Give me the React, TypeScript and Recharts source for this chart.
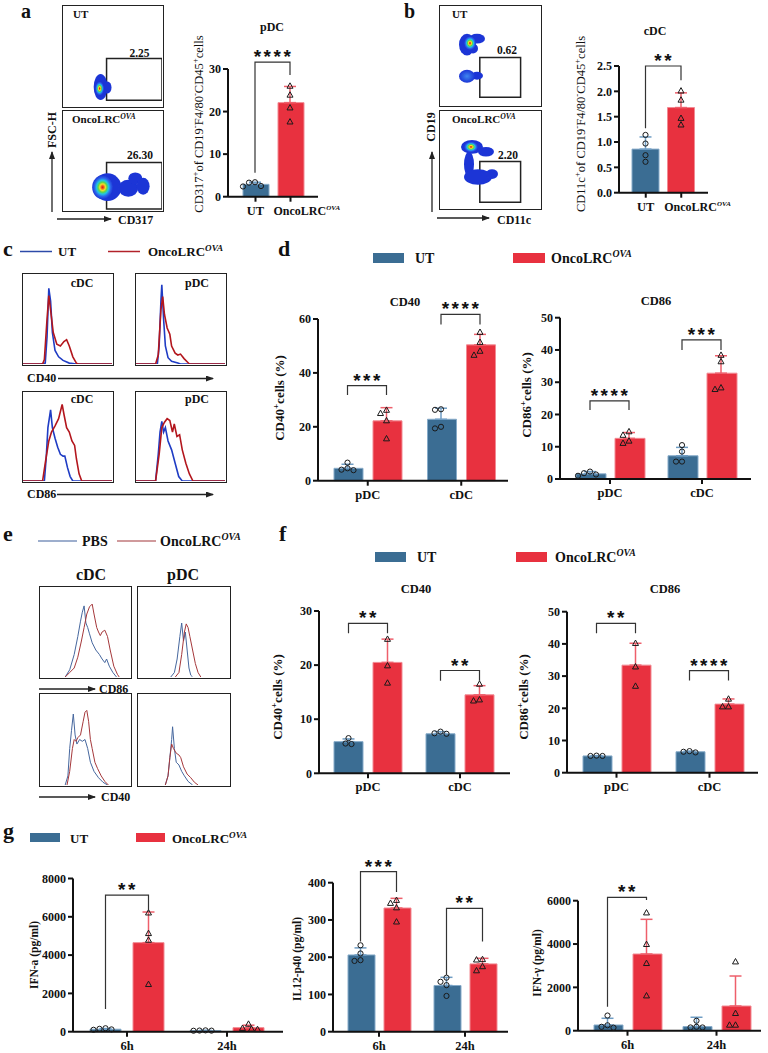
import React from "react";
import {
  ComposedChart,
  ScatterChart,
  Bar,
  Cell,
  Scatter,
  ErrorBar,
  XAxis,
  YAxis,
  ReferenceLine,
  ReferenceArea,
} from "recharts";

const SERIF = '"Liberation Serif", "Times New Roman", serif';
const SANS = '"Liberation Sans", Arial, sans-serif';
const UT_BLUE = "#3b6d93";
const ONCO_RED = "#e8313f";
const UT_EDGE = "#86abc9";
const ONCO_EDGE = "#f28a93";
const UT_ERR = "#6f9dc4";
const ONCO_ERR = "#ee5f6b";
const INK = "#111";

// ---------- bar panels: values ----------
// a: pDC (CD317+)
const aCats = ["UT", "OncoLRC"];
const aUt = [2.9];
const aUtSd = [0.5];
const aUtPts = [[3.4, 3.3, 2.5, 2.4]];
const aOnco = [22.1];
const aOncoSd = [3.8];
const aOncoPts = [[26.0, 23.9, 20.9, 17.6]];
const aSig = [{ g: 0, top: 31.6, l: 5.6, r: 28.6, text: "****" }];

// b: cDC (CD11c+)
const bCats = ["UT", "OncoLRC"];
const bUt = [0.86];
const bUtSd = [0.24];
const bUtPts = [[1.14, 0.97, 0.74, 0.61]];
const bOnco = [1.68];
const bOncoSd = [0.29];
const bOncoPts = [[2.01, 1.83, 1.47, 1.34]];
const bSig = [{ g: 0, top: 2.5, l: 1.27, r: 2.22, text: "**" }];

// d: CD40 / CD86 (in vivo)
const dcCats = ["pDC", "cDC"];
const d40Ut = [4.6, 22.8];
const d40UtSd = [1.5, 4.1];
const d40UtPts = [[6.7, 4.6, 4.1, 3.9], [26.5, 26.3, 20.0, 19.4]];
const d40Onco = [22.2, 50.4];
const d40OncoSd = [4.9, 3.9];
const d40OncoPts = [[26.2, 25.0, 22.3, 15.6], [55.1, 51.4, 48.1, 46.6]];
const d40Sig = [
  { g: 0, top: 35.3, l: 31.8, r: 31.8, text: "***" },
  { g: 1, top: 61.7, l: 58.0, r: 58.0, text: "****" },
];
const d86Ut = [1.6, 7.2];
const d86UtSd = [0.7, 2.6];
const d86UtPts = [[2.3, 1.8, 1.4, 1.0], [10.5, 8.5, 5.4, 5.4]];
const d86Onco = [12.6, 32.8];
const d86OncoSd = [1.8, 5.4];
const d86OncoPts = [[14.7, 13.6, 11.8, 11.1], [38.4, 36.4, 28.3, 27.8]];
const d86Sig = [
  { g: 0, top: 24.2, l: 21.4, r: 21.4, text: "****" },
  { g: 1, top: 43.1, l: 40.0, r: 40.0, text: "***" },
];

// f: CD40 / CD86 (in vitro)
const f40Ut = [5.85, 7.3];
const f40UtSd = [0.5, 0.4];
const f40UtPts = [[6.5, 5.5, 5.4], [7.7, 7.4, 7.3]];
const f40Onco = [20.5, 14.5];
const f40OncoSd = [4.3, 1.7];
const f40OncoPts = [[24.8, 19.9, 16.7], [16.5, 13.6, 13.4]];
const f40Sig = [
  { g: 0, top: 27.7, l: 25.9, r: 25.9, text: "**" },
  { g: 1, top: 19.0, l: 17.1, r: 17.1, text: "**" },
];
const f86Ut = [5.2, 6.5];
const f86UtSd = [0.1, 0.2];
const f86UtPts = [[5.3, 5.2, 5.2], [6.7, 6.5, 6.3]];
const f86Onco = [33.4, 21.3];
const f86OncoSd = [6.8, 1.6];
const f86OncoPts = [[40.2, 32.9, 26.9], [22.9, 20.5, 20.5]];
const f86Sig = [
  { g: 0, top: 46.4, l: 43.3, r: 43.3, text: "**" },
  { g: 1, top: 31.7, l: 28.6, r: 28.6, text: "****" },
];

// g: cytokines
const gCats = ["6h", "24h"];
const ifnaUt = [130, 60];
const ifnaUtSd = [35, 10];
const ifnaUtPts = [[180, 150, 120, 100], [70, 60, 55, 50]];
const ifnaOnco = [4650, 210];
const ifnaOncoSd = [1600, 130];
const ifnaOncoPts = [[6210, 5135, 4786, 2474], [400, 180, 140, 120]];
const ifnaSig = [{ g: 0, top: 7135, l: 1180, r: 6280, text: "**" }];

const il12Ut = [206, 124];
const il12UtSd = [19, 22];
const il12UtPts = [[232, 210, 192, 190], [145, 134, 125, 96]];
const il12Onco = [332, 182];
const il12OncoSd = [26, 15];
const il12OncoPts = [[353, 345, 333, 295], [194, 193, 175, 164]];
const il12Sig = [
  { g: 0, top: 430, l: 242, r: 375, text: "***" },
  { g: 1, top: 331, l: 152, r: 242, text: "**" },
];

const ifngUt = [263, 190];
const ifngUtSd = [310, 430];
const ifngUtPts = [[700, 250, 180, 140], [460, 180, 150, 150]];
const ifngOnco = [3540, 1140];
const ifngOncoSd = [1600, 1384];
const ifngOncoPts = [[5445, 3987, 3110, 1615], [3184, 803, 263, 263]];
const ifngSig = [{ g: 0, top: 6156, l: 1108, r: 6030, text: "**" }];

// ---------- flow cytometry histograms: [fluorescence, relative count] ----------
const c1Ut = [[0, 0], [0.2, 0], [0.25, 0.01], [0.27, 0.3], [0.29, 0.84], [0.31, 0.7], [0.33, 0.35], [0.36, 0.15], [0.4, 0.08], [0.45, 0.04], [0.52, 0.01], [0.6, 0], [1, 0]];
const c1On = [[0, 0], [0.22, 0], [0.24, 0.05], [0.27, 0.5], [0.29, 0.76], [0.31, 0.6], [0.34, 0.35], [0.38, 0.22], [0.42, 0.2], [0.46, 0.25], [0.49, 0.27], [0.52, 0.2], [0.56, 0.08], [0.6, 0.01], [0.62, 0], [1, 0]];
const c2Ut = [[0, 0], [0.24, 0], [0.26, 0.2], [0.28, 0.7], [0.29, 0.88], [0.31, 0.5], [0.33, 0.2], [0.36, 0.07], [0.4, 0.03], [0.47, 0.01], [0.5, 0], [1, 0]];
const c2On = [[0, 0], [0.22, 0], [0.25, 0.1], [0.28, 0.6], [0.3, 0.75], [0.32, 0.55], [0.35, 0.4], [0.38, 0.33], [0.4, 0.2], [0.44, 0.12], [0.47, 0.1], [0.5, 0.11], [0.54, 0.06], [0.58, 0.02], [0.6, 0], [1, 0]];
const c3Ut = [[0, 0], [0.24, 0], [0.26, 0.25], [0.28, 0.6], [0.31, 0.8], [0.33, 0.6], [0.36, 0.48], [0.39, 0.38], [0.42, 0.3], [0.45, 0.28], [0.47, 0.28], [0.5, 0.15], [0.53, 0.05], [0.56, 0], [1, 0]];
const c3On = [[0, 0], [0.22, 0], [0.25, 0.2], [0.29, 0.45], [0.32, 0.55], [0.36, 0.62], [0.4, 0.7], [0.44, 0.86], [0.46, 0.75], [0.49, 0.6], [0.52, 0.55], [0.55, 0.45], [0.58, 0.4], [0.6, 0.25], [0.63, 0.08], [0.66, 0], [1, 0]];
const c4Ut = [[0, 0], [0.22, 0], [0.25, 0.3], [0.27, 0.55], [0.29, 0.67], [0.31, 0.55], [0.33, 0.6], [0.36, 0.45], [0.4, 0.35], [0.44, 0.2], [0.48, 0.05], [0.52, 0], [1, 0]];
const c4On = [[0, 0], [0.22, 0], [0.26, 0.3], [0.29, 0.6], [0.32, 0.66], [0.35, 0.7], [0.38, 0.68], [0.41, 0.55], [0.43, 0.64], [0.46, 0.5], [0.49, 0.52], [0.52, 0.35], [0.56, 0.2], [0.6, 0.08], [0.64, 0], [1, 0]];

const e1Pbs = [[0.28, 0], [0.33, 0.08], [0.38, 0.25], [0.42, 0.45], [0.45, 0.62], [0.47, 0.72], [0.49, 0.79], [0.51, 0.6], [0.53, 0.55], [0.55, 0.48], [0.58, 0.38], [0.62, 0.3], [0.66, 0.25], [0.69, 0.2], [0.72, 0.16], [0.74, 0.2], [0.77, 0.12], [0.81, 0.05], [0.85, 0]];
const e1On = [[0.28, 0], [0.33, 0.05], [0.38, 0.1], [0.42, 0.22], [0.46, 0.4], [0.49, 0.55], [0.52, 0.7], [0.55, 0.78], [0.58, 0.81], [0.6, 0.7], [0.63, 0.55], [0.65, 0.5], [0.67, 0.46], [0.69, 0.5], [0.72, 0.52], [0.75, 0.45], [0.78, 0.3], [0.82, 0.12], [0.86, 0.03], [0.88, 0]];
const e2Pbs = [[0.36, 0], [0.4, 0.05], [0.43, 0.2], [0.46, 0.45], [0.48, 0.6], [0.5, 0.4], [0.52, 0.5], [0.54, 0.3], [0.56, 0.1], [0.58, 0.02], [0.6, 0]];
const e2On = [[0.41, 0], [0.45, 0.05], [0.48, 0.25], [0.51, 0.5], [0.53, 0.59], [0.55, 0.55], [0.57, 0.45], [0.6, 0.3], [0.63, 0.15], [0.66, 0.05], [0.69, 0]];
const e3Pbs = [[0.28, 0], [0.31, 0.1], [0.33, 0.4], [0.35, 0.6], [0.37, 0.78], [0.39, 0.55], [0.41, 0.45], [0.44, 0.5], [0.47, 0.48], [0.5, 0.5], [0.53, 0.4], [0.56, 0.25], [0.6, 0.15], [0.65, 0.08], [0.7, 0.03], [0.75, 0]];
const e3On = [[0.3, 0], [0.33, 0.15], [0.36, 0.4], [0.38, 0.5], [0.4, 0.48], [0.42, 0.52], [0.45, 0.55], [0.48, 0.7], [0.5, 0.8], [0.52, 0.82], [0.54, 0.7], [0.56, 0.5], [0.58, 0.4], [0.61, 0.25], [0.64, 0.18], [0.68, 0.1], [0.72, 0.04], [0.76, 0]];
const e4Pbs = [[0.3, 0], [0.33, 0.1], [0.35, 0.3], [0.37, 0.5], [0.38, 0.64], [0.4, 0.4], [0.42, 0.25], [0.45, 0.22], [0.48, 0.15], [0.51, 0.1], [0.55, 0.04], [0.6, 0]];
const e4On = [[0.3, 0], [0.33, 0.1], [0.35, 0.3], [0.37, 0.45], [0.39, 0.4], [0.42, 0.35], [0.45, 0.33], [0.47, 0.3], [0.5, 0.2], [0.54, 0.12], [0.58, 0.08], [0.62, 0.03], [0.66, 0]];

// ---------- density plots: blobs (x, y, rx, ry in 0..100 units; k 0 blue, 1 hot core, 2 cool) ----------
const aUtBlobs = [
  { x: 38, y: 19, rx: 7, ry: 13, k: 0 },
  { x: 45, y: 18.5, rx: 4, ry: 6, k: 0 },
  { x: 37, y: 17.5, rx: 4.5, ry: 7, k: 1 },
];
const aOnBlobs = [
  { x: 45, y: 23, rx: 14, ry: 14, k: 0 },
  { x: 66, y: 22, rx: 10, ry: 8.5, k: 0 },
  { x: 73, y: 32, rx: 7, ry: 6, k: 0 },
  { x: 81, y: 24, rx: 6.5, ry: 8.5, k: 0 },
  { x: 40, y: 23, rx: 10.5, ry: 12, k: 1 },
];
const bUtBlobs = [
  { x: 27, y: 61, rx: 8, ry: 11, k: 0 },
  { x: 37, y: 67, rx: 8, ry: 5, k: 0 },
  { x: 33, y: 57, rx: 5, ry: 5, k: 0 },
  { x: 30, y: 62.5, rx: 6, ry: 7, k: 1 },
  { x: 37, y: 29.5, rx: 6, ry: 4, k: 0 },
  { x: 27, y: 29, rx: 8, ry: 6.5, k: 2 },
];
const bOnBlobs = [
  { x: 32, y: 63, rx: 11, ry: 7, k: 0 },
  { x: 46, y: 58, rx: 8, ry: 5, k: 0 },
  { x: 29, y: 45, rx: 5, ry: 13, k: 0 },
  { x: 38, y: 32, rx: 14, ry: 8, k: 0 },
  { x: 52, y: 35, rx: 6, ry: 5, k: 0 },
  { x: 31, y: 63, rx: 7, ry: 5.5, k: 1 },
];

const blank = () => <g />;

function swarm(vals: number[], xc: number, ppu: number, band: number) {
  const step = 6;
  const placed: { dx: number; py: number }[] = [];
  return vals.map((v) => {
    const py = v * ppu;
    let dx = 0;
    for (const k of [0, -0.5, 0.5, -1, 1, -1.5, 1.5, -2, 2]) {
      const cand = k * step;
      if (placed.every((p) => Math.hypot(p.dx - cand, p.py - py) >= step - 0.5)) {
        dx = cand;
        break;
      }
    }
    placed.push({ dx, py });
    return { x: xc + dx / band, y: v };
  });
}

const circleShape = (p: any) => (
  <circle cx={p.cx} cy={p.cy} r={2.6} fill="none" stroke="#1a1a1a" strokeWidth={1} />
);
const triShape = (p: any) => (
  <path
    d={`M${p.cx},${p.cy - 3.2} L${p.cx - 3},${p.cy + 2.2} L${p.cx + 3},${p.cy + 2.2} Z`}
    fill="none"
    stroke="#1a1a1a"
    strokeWidth={1}
  />
);
const sigShape = (p: any) => (
  <text
    x={p.cx + 1}
    y={p.cy + 1}
    textAnchor="middle"
    fontFamily={SANS}
    fontWeight="bold"
    fontSize={19}
    letterSpacing={2.5}
    fill={INK}
  >
    {p.payload.text}
  </text>
);

const CatTick = (p: any) => {
  const v = p.payload.value;
  if (v === "OncoLRC") {
    // GraphPad left-aligns this long label just right of the UT label
    return (
      <text x={p.x - 17} y={p.y} dy={10} textAnchor="start" fontFamily={SERIF} fontWeight="bold" fontSize={12} fill={INK}>
        <tspan>OncoLRC</tspan>
        <tspan dy={-5} fontSize={7} fontStyle="italic">OVA</tspan>
      </text>
    );
  }
  return (
    <text x={p.x} y={p.y} dy={10} textAnchor="middle" fontFamily={SERIF} fontWeight="bold" fontSize={12.5} fill={INK}>
      {v}
    </text>
  );
};

function BarPanel({ c }: { c: any }) {
  const n = c.cats.length;
  const plotW = c.plotR - c.axisX;
  const band = (plotW - c.padL - c.padR) / n;
  const numLo = -c.padL / band;
  const numHi = n + c.padR / band;
  const ppu = (c.y0 - c.yAxisTopPx) / c.axisMax;
  const mt = c.y0 - c.yTop * ppu - c.T;
  const xh = c.T + c.H - c.y0;
  const yw = c.axisX - c.L;
  const mr = c.L + c.W - c.plotR;
  const nb = c.grouped ? 2 : 1;
  const sum = nb * c.barSize + (nb - 1) * c.barGap;
  const off = ((band - sum) / 2) >> 0;
  const center = (s: number, g: number) =>
    c.grouped ? g + (off + s * (c.barSize + c.barGap) + c.barSize / 2) / band : s + (off + c.barSize / 2) / band;

  const rows = c.grouped
    ? c.cats.map((cat: string, i: number) => ({ cat, ut: c.ut[i], onco: c.onco[i] }))
    : [
        { cat: c.cats[0], v: c.ut[0] },
        { cat: c.cats[1], v: c.onco[0] },
      ];
  const groups = c.ut.map((_: number, g: number) => g);
  const errUt = groups.map((g: number) => ({ x: center(0, g), y: c.ut[g], e: [0, c.utSd[g]] }));
  const errOn = groups.map((g: number) => ({ x: center(1, g), y: c.onco[g], e: [0, c.oncoSd[g]] }));
  const ptsUt = groups.flatMap((g: number) => swarm(c.utPts[g], center(0, g), ppu, band));
  const ptsOn = groups.flatMap((g: number) => swarm(c.oncoPts[g], center(1, g), ppu, band));

  return (
    <div style={{ position: "absolute", left: c.L, top: c.T }}>
      <ComposedChart
        width={c.W}
        height={c.H}
        data={rows}
        barGap={c.barGap}
        margin={{ top: mt, right: mr, bottom: 0, left: 0 }}
      >
        <YAxis
          type="number"
          domain={[0, c.yTop]}
          ticks={c.ticks}
          interval={0}
          width={yw}
          axisLine={false}
          tickLine={{ stroke: INK, strokeWidth: 2 }}
          tickSize={5}
          tickMargin={2}
          tickFormatter={c.fmt}
          tick={{ fontFamily: SERIF, fontWeight: "bold", fontSize: 12, fill: INK }}
        />
        <XAxis
          xAxisId="cat"
          dataKey="cat"
          type="category"
          height={xh}
          padding={{ left: c.padL, right: c.padR }}
          axisLine={{ stroke: INK, strokeWidth: 2 }}
          tickLine={{ stroke: INK, strokeWidth: 2 }}
          tickSize={5}
          tickMargin={3}
          interval={0}
          tick={(p: any) => <CatTick {...p} />}
        />
        <XAxis xAxisId="num" type="number" dataKey="x" domain={[numLo, numHi]} hide />
        {c.grouped ? (
          [
            <Bar key="ut" xAxisId="cat" dataKey="ut" barSize={c.barSize} fill={UT_BLUE} stroke={UT_EDGE} strokeWidth={1} isAnimationActive={false} />,
            <Bar key="on" xAxisId="cat" dataKey="onco" barSize={c.barSize} fill={ONCO_RED} stroke={ONCO_EDGE} strokeWidth={1} isAnimationActive={false} />,
          ]
        ) : (
          <Bar xAxisId="cat" dataKey="v" barSize={c.barSize} isAnimationActive={false} strokeWidth={1}>
            {rows.map((_: any, i: number) => (
              <Cell key={i} fill={i === 0 ? UT_BLUE : ONCO_RED} stroke={i === 0 ? UT_EDGE : ONCO_EDGE} />
            ))}
          </Bar>
        )}
        <ReferenceLine
          xAxisId="num"
          segment={[
            { x: numLo, y: 0 },
            { x: numLo, y: c.axisMax },
          ]}
          stroke={INK}
          strokeWidth={2}
          ifOverflow="visible"
        />
        <Scatter xAxisId="num" data={errUt} dataKey="y" shape={blank} isAnimationActive={false}>
          <ErrorBar dataKey="e" direction="y" width={6} stroke={UT_ERR} strokeWidth={1.5} isAnimationActive={false} />
        </Scatter>
        <Scatter xAxisId="num" data={errOn} dataKey="y" shape={blank} isAnimationActive={false}>
          <ErrorBar dataKey="e" direction="y" width={6} stroke={ONCO_ERR} strokeWidth={1.5} isAnimationActive={false} />
        </Scatter>
        <Scatter xAxisId="num" data={ptsUt} dataKey="y" shape={circleShape} isAnimationActive={false} />
        <Scatter xAxisId="num" data={ptsOn} dataKey="y" shape={triShape} isAnimationActive={false} />
        {c.sig.map((s: any, i: number) => {
          const lx = center(0, s.g);
          const rx = center(1, s.g);
          return (
            <Scatter
              key={"br" + i}
              xAxisId="num"
              dataKey="y"
              data={[
                { x: lx, y: s.l },
                { x: lx, y: s.top },
                { x: rx, y: s.top },
                { x: rx, y: s.r },
              ]}
              line={{ stroke: "#333", strokeWidth: 1.2 }}
              shape={blank}
              isAnimationActive={false}
            />
          );
        })}
        {c.sig.map((s: any, i: number) => (
          <Scatter
            key={"st" + i}
            xAxisId="num"
            dataKey="y"
            data={[{ x: (center(0, s.g) + center(1, s.g)) / 2, y: s.top, text: s.text }]}
            shape={sigShape}
            isAnimationActive={false}
          />
        ))}
      </ComposedChart>
    </div>
  );
}

function DensityBox({ left, top, w, h, blobs, gate }: any) {
  const iw = w - 3;
  const ih = h - 3;
  const sx = iw / 100;
  const sy = ih / 100;
  const shape = (p: any) => {
    const b = p.payload;
    const fill = b.k === 0 ? "#1c36d6" : b.k === 1 ? "url(#jet)" : "url(#cool)";
    return <ellipse cx={p.cx} cy={p.cy} rx={b.rx * sx} ry={b.ry * sy} fill={fill} filter="url(#soft)" />;
  };
  return (
    <div style={{ position: "absolute", left, top, width: w, height: h, border: "1.5px solid #222", boxSizing: "border-box" }}>
      <ScatterChart width={iw} height={ih} margin={{ top: 0, right: 0, bottom: 0, left: 0 }}>
        <XAxis type="number" dataKey="x" domain={[0, 100]} hide />
        <YAxis type="number" dataKey="y" domain={[0, 100]} hide />
        <Scatter data={blobs} shape={shape} isAnimationActive={false} />
        <ReferenceArea x1={gate[0]} x2={gate[1]} y1={gate[2]} y2={gate[3]} fill="none" fillOpacity={0} stroke="#222" strokeWidth={1.5} ifOverflow="visible" />
      </ScatterChart>
    </div>
  );
}

const toXY = (a: number[][]) => a.map(([x, y]) => ({ x, y }));

function HistBox({ left, top, w, h, blue, red, bc, rc, sw }: any) {
  return (
    <div style={{ position: "absolute", left, top, width: w, height: h, border: "1.5px solid #222", boxSizing: "border-box" }}>
      <ScatterChart width={w - 3} height={h - 3} margin={{ top: 0, right: 0, bottom: 0, left: 0 }}>
        <XAxis type="number" dataKey="x" domain={[0, 1]} hide />
        <YAxis type="number" dataKey="y" domain={[0, 1]} hide />
        <Scatter data={toXY(blue)} line={{ stroke: bc, strokeWidth: sw }} shape={blank} isAnimationActive={false} />
        <Scatter data={toXY(red)} line={{ stroke: rc, strokeWidth: sw }} shape={blank} isAnimationActive={false} />
      </ScatterChart>
    </div>
  );
}

// ---------- chart layouts ----------
const aCfg = {
  L: 180, T: 20, W: 165, H: 200, axisX: 228, plotR: 318, y0: 196.7, yAxisTopPx: 69, axisMax: 30, yTop: 38,
  ticks: [0, 10, 20, 30], cats: aCats, grouped: false, barSize: 26, barGap: 9, padL: 10, padR: 10,
  ut: aUt, utSd: aUtSd, utPts: aUtPts, onco: aOnco, oncoSd: aOncoSd, oncoPts: aOncoPts, sig: aSig,
};
const bCfg = {
  L: 570, T: 20, W: 165, H: 200, axisX: 619, plotR: 708, y0: 192.7, yAxisTopPx: 66, axisMax: 2.5, yTop: 2.95,
  ticks: [0, 0.5, 1, 1.5, 2, 2.5], fmt: (v: number) => v.toFixed(1), cats: bCats, grouped: false,
  barSize: 27, barGap: 9, padL: 9, padR: 9,
  ut: bUt, utSd: bUtSd, utPts: bUtPts, onco: bOnco, oncoSd: bOncoSd, oncoPts: bOncoPts, sig: bSig,
};
const d40Cfg = {
  L: 290, T: 290, W: 220, H: 216, axisX: 318, plotR: 508, y0: 480.7, yAxisTopPx: 319, axisMax: 60, yTop: 70,
  ticks: [0, 20, 40, 60], cats: dcCats, grouped: true, barSize: 29, barGap: 10, padL: 3, padR: 0,
  ut: d40Ut, utSd: d40UtSd, utPts: d40UtPts, onco: d40Onco, oncoSd: d40OncoSd, oncoPts: d40OncoPts, sig: d40Sig,
};
const d86Cfg = {
  L: 530, T: 290, W: 223, H: 216, axisX: 560, plotR: 751, y0: 479, yAxisTopPx: 317.7, axisMax: 50, yTop: 52,
  ticks: [0, 10, 20, 30, 40, 50], cats: dcCats, grouped: true, barSize: 30, barGap: 9, padL: 4, padR: 3,
  ut: d86Ut, utSd: d86UtSd, utPts: d86UtPts, onco: d86Onco, oncoSd: d86OncoSd, oncoPts: d86OncoPts, sig: d86Sig,
};
const f40Cfg = {
  L: 290, T: 590, W: 222, H: 206, axisX: 319, plotR: 510, y0: 773.3, yAxisTopPx: 611, axisMax: 30, yTop: 33,
  ticks: [0, 10, 20, 30], cats: dcCats, grouped: true, barSize: 29, barGap: 10, padL: 3, padR: 4,
  ut: f40Ut, utSd: f40UtSd, utPts: f40UtPts, onco: f40Onco, oncoSd: f40OncoSd, oncoPts: f40OncoPts, sig: f40Sig,
};
const f86Cfg = {
  L: 537, T: 590, W: 223, H: 206, axisX: 567, plotR: 758, y0: 772.7, yAxisTopPx: 611.7, axisMax: 50, yTop: 55,
  ticks: [0, 10, 20, 30, 40, 50], cats: dcCats, grouped: true, barSize: 29, barGap: 10, padL: 3, padR: 2,
  ut: f86Ut, utSd: f86UtSd, utPts: f86UtPts, onco: f86Onco, oncoSd: f86OncoSd, oncoPts: f86OncoPts, sig: f86Sig,
};
const g1Cfg = {
  L: 40, T: 840, W: 245, H: 213, axisX: 73, plotR: 283, y0: 1031.7, yAxisTopPx: 878.5, axisMax: 8000, yTop: 8300,
  ticks: [0, 2000, 4000, 6000, 8000], cats: gCats, grouped: true, barSize: 31, barGap: 12, padL: 4, padR: 6,
  ut: ifnaUt, utSd: ifnaUtSd, utPts: ifnaUtPts, onco: ifnaOnco, oncoSd: ifnaOncoSd, oncoPts: ifnaOncoPts, sig: ifnaSig,
};
const g2Cfg = {
  L: 300, T: 840, W: 210, H: 213, axisX: 333, plotR: 508, y0: 1031.7, yAxisTopPx: 882.7, axisMax: 400, yTop: 480,
  ticks: [0, 100, 200, 300, 400], cats: gCats, grouped: true, barSize: 27, barGap: 9, padL: 3, padR: 0,
  ut: il12Ut, utSd: il12UtSd, utPts: il12UtPts, onco: il12Onco, oncoSd: il12OncoSd, oncoPts: il12OncoPts, sig: il12Sig,
};
const g3Cfg = {
  L: 545, T: 840, W: 218, H: 213, axisX: 578, plotR: 761, y0: 1030.7, yAxisTopPx: 900.7, axisMax: 6000, yTop: 6700,
  ticks: [0, 2000, 4000, 6000], cats: gCats, grouped: true, barSize: 29, barGap: 10, padL: 5, padR: 0,
  ut: ifngUt, utSd: ifngUtSd, utPts: ifngUtPts, onco: ifngOnco, oncoSd: ifngOncoSd, oncoPts: ifngOncoPts, sig: ifngSig,
};

// ---------- overlay text helpers ----------
function rich(parts: string[], s: number) {
  let up = false;
  return parts.map((p, i) => {
    if (p[0] === "^" || p[0] === "~") {
      const el = (
        <tspan key={i} dy={-s * 0.4} fontSize={s * 0.7} fontStyle={p[0] === "~" ? "italic" : "normal"}>
          {p.slice(1)}
        </tspan>
      );
      up = true;
      return el;
    }
    const el = (
      <tspan key={i} dy={up ? s * 0.4 : 0}>
        {p}
      </tspan>
    );
    up = false;
    return el;
  });
}

const T = ({ x, y, s = 12, a = "start", w = "bold", rot = false, children }: any) => (
  <text
    x={x}
    y={y}
    fontSize={s}
    textAnchor={a}
    fontWeight={w}
    fontFamily={SERIF}
    fill={INK}
    transform={rot ? `rotate(-90 ${x} ${y})` : undefined}
  >
    {children}
  </text>
);

const Arrow = ({ x1, y1, x2, y2 }: any) => (
  <line x1={x1} y1={y1} x2={x2} y2={y2} stroke="#222" strokeWidth={1.3} markerEnd="url(#arr)" />
);

function Overlay() {
  const onco = (s: number) => rich(["OncoLRC", "~OVA"], s);
  return (
    <svg width={768} height={1053} style={{ position: "absolute", left: 0, top: 0, pointerEvents: "none" }}>
      <defs>
        <marker id="arr" markerUnits="userSpaceOnUse" markerWidth={8} markerHeight={6} refX={7} refY={3} orient="auto">
          <path d="M0,0 L8,3 L0,6 Z" fill="#222" />
        </marker>
      </defs>
      {/* panel letters */}
      <T x={21} y={18} s={20}>a</T>
      <T x={404} y={18} s={20}>b</T>
      <T x={3} y={256} s={22}>c</T>
      <T x={278} y={256} s={22}>d</T>
      <T x={3} y={541} s={22}>e</T>
      <T x={279} y={541} s={22}>f</T>
      <T x={3} y={838} s={22}>g</T>

      {/* a / b flow labels */}
      <T x={73} y={18} s={11}>UT</T>
      <T x={72} y={123} s={11}>{onco(11)}</T>
      <T x={452} y={18} s={11}>UT</T>
      <T x={452} y={123} s={11}>{onco(11)}</T>
      <T x={139.5} y={57} s={11.5} a="middle">2.25</T>
      <T x={140} y={159} s={11.5} a="middle">26.30</T>
      <T x={507} y={54} s={11.5} a="middle">0.62</T>
      <T x={508} y={159} s={11.5} a="middle">2.20</T>
      <T x={56} y={130} s={12} a="middle" rot>FSC-H</T>
      <Arrow x1={52} y1={212} x2={52} y2={152} />
      <Arrow x1={57} y1={219} x2={111} y2={219} />
      <T x={118} y={224} s={12}>CD317</T>
      <T x={435} y={127} s={12} a="middle" rot>CD19</T>
      <Arrow x1={432} y1={212} x2={432} y2={152} />
      <Arrow x1={437} y1={218} x2={489} y2={218} />
      <T x={497} y={224} s={12}>CD11c</T>

      {/* bar titles + y labels a / b */}
      <T x={272} y={31} s={12} a="middle">pDC</T>
      <T x={655} y={35} s={12} a="middle">cDC</T>
      <T x={203} y={124} s={12.5} a="middle" w="normal" rot>
        {rich(["CD317", "^+", "of CD19", "^-", "F4/80", "^-", "CD45", "^+", "cells"], 12.5)}
      </T>
      <T x={585} y={124} s={12.5} a="middle" w="normal" rot>
        {rich(["CD11c", "^+", "of CD19", "^-", "F4/80", "^-", "CD45", "^+", "cells"], 12.5)}
      </T>

      {/* c */}
      <line x1={20} x2={52} y1={251.5} y2={251.5} stroke="#2c4aa8" strokeWidth={1.5} />
      <T x={58} y={256} s={13}>UT</T>
      <line x1={108} x2={140} y1={251.5} y2={251.5} stroke="#b2222a" strokeWidth={1.5} />
      <T x={148} y={256} s={13}>{onco(13)}</T>
      <T x={82} y={287} s={12} a="middle">cDC</T>
      <T x={197} y={287} s={12} a="middle">pDC</T>
      <T x={82} y={403} s={12} a="middle">cDC</T>
      <T x={197} y={403} s={12} a="middle">pDC</T>
      <T x={27} y={382} s={12}>CD40</T>
      <Arrow x1={58} y1={378.5} x2={213} y2={378.5} />
      <T x={27} y={498} s={12}>CD86</T>
      <Arrow x1={57} y1={494.5} x2={213} y2={494.5} />

      {/* d */}
      <rect x={373} y={253} width={31} height={10} fill={UT_BLUE} />
      <T x={415} y={263} s={14}>UT</T>
      <rect x={513} y={253} width={32} height={10} fill={ONCO_RED} />
      <T x={551} y={263} s={14}>{onco(14)}</T>
      <T x={405} y={306} s={12.5} a="middle">CD40</T>
      <T x={656} y={305} s={12.5} a="middle">CD86</T>
      <T x={284} y={398} s={13} a="middle" rot>{rich(["CD40", "^+", "cells (%)"], 13)}</T>
      <T x={531} y={395} s={13} a="middle" rot>{rich(["CD86", "^+", "cells (%)"], 13)}</T>

      {/* e */}
      <line x1={38} x2={77} y1={541} y2={541} stroke="#3d5f9c" strokeWidth={1.2} />
      <T x={82} y={546} s={14}>PBS</T>
      <line x1={117} x2={156} y1={541} y2={541} stroke="#a2363a" strokeWidth={1.2} />
      <T x={160} y={546} s={14}>{onco(14)}</T>
      <T x={91} y={580} s={16} a="middle">cDC</T>
      <T x={183} y={580} s={16} a="middle">pDC</T>
      <Arrow x1={39} y1={689} x2={95} y2={689} />
      <T x={99} y={693} s={12}>CD86</T>
      <Arrow x1={39} y1={797} x2={95} y2={797} />
      <T x={101} y={801} s={12}>CD40</T>

      {/* f */}
      <rect x={375} y={552} width={31} height={10} fill={UT_BLUE} />
      <T x={417} y={562} s={14}>UT</T>
      <rect x={516} y={552} width={31} height={10} fill={ONCO_RED} />
      <T x={555} y={562} s={14}>{onco(14)}</T>
      <T x={416} y={593} s={12.5} a="middle">CD40</T>
      <T x={665} y={593} s={12.5} a="middle">CD86</T>
      <T x={282} y={697} s={13} a="middle" rot>{rich(["CD40", "^+", "cells (%)"], 13)}</T>
      <T x={528} y={697} s={13} a="middle" rot>{rich(["CD86", "^+", "cells (%)"], 13)}</T>

      {/* g */}
      <rect x={30} y={833} width={30} height={9} fill={UT_BLUE} />
      <T x={70} y={843} s={13}>UT</T>
      <rect x={136} y={833} width={29} height={9} fill={ONCO_RED} />
      <T x={172} y={843} s={13}>{onco(13)}</T>
      <T x={38} y={955} s={11.5} a="middle" rot>IFN-a (pg/ml)</T>
      <T x={301} y={959} s={11.5} a="middle" rot>IL12-p40 (pg/ml)</T>
      <T x={541} y={963} s={11.5} a="middle" rot>IFN-γ (pg/ml)</T>
    </svg>
  );
}

export default function App() {
  const cB = "#1f3cc4";
  const cR = "#b3161d";
  const eB = "#46679e";
  const eR = "#a5383b";
  return (
    <div style={{ position: "absolute", left: 0, top: 0, width: 768, height: 1053, background: "#fff", overflow: "hidden", fontFamily: SERIF }}>
      <svg width={0} height={0} style={{ position: "absolute" }}>
        <defs>
          <radialGradient id="jet">
            <stop offset="0" stopColor="#d8141b" />
            <stop offset="0.14" stopColor="#f06a1e" />
            <stop offset="0.27" stopColor="#f2e02a" />
            <stop offset="0.42" stopColor="#5bd64c" />
            <stop offset="0.58" stopColor="#22c4e4" />
            <stop offset="0.78" stopColor="#2c63ea" />
            <stop offset="1" stopColor="#1c36d6" />
          </radialGradient>
          <radialGradient id="cool">
            <stop offset="0" stopColor="#3f86f0" />
            <stop offset="1" stopColor="#1c36d6" />
          </radialGradient>
          <filter id="soft" x="-20%" y="-20%" width="140%" height="140%">
            <feGaussianBlur stdDeviation="0.7" />
          </filter>
        </defs>
      </svg>

      <DensityBox left={62} top={5} w={102} h={103} blobs={aUtBlobs} gate={[44, 100, 5.8, 47.6]} />
      <DensityBox left={62} top={110} w={102} h={102} blobs={aOnBlobs} gate={[44, 100, 1, 48]} />
      <DensityBox left={439} top={5} w={103} h={102} blobs={bUtBlobs} gate={[39.8, 80.6, 7.8, 48]} />
      <DensityBox left={439} top={110} w={103} h={100} blobs={bOnBlobs} gate={[39.8, 80.6, 6, 48]} />

      <HistBox left={22} top={273} w={92} h={93} blue={c1Ut} red={c1On} bc={cB} rc={cR} sw={1.6} />
      <HistBox left={135} top={273} w={92} h={93} blue={c2Ut} red={c2On} bc={cB} rc={cR} sw={1.6} />
      <HistBox left={22} top={391} w={92} h={92} blue={c3Ut} red={c3On} bc={cB} rc={cR} sw={1.6} />
      <HistBox left={135} top={391} w={92} h={92} blue={c4Ut} red={c4On} bc={cB} rc={cR} sw={1.6} />

      <HistBox left={39} top={586} w={93} h={93} blue={e1Pbs} red={e1On} bc={eB} rc={eR} sw={1} />
      <HistBox left={137} top={586} w={94} h={93} blue={e2Pbs} red={e2On} bc={eB} rc={eR} sw={1} />
      <HistBox left={39} top={693} w={93} h={94} blue={e3Pbs} red={e3On} bc={eB} rc={eR} sw={1} />
      <HistBox left={137} top={693} w={94} h={94} blue={e4Pbs} red={e4On} bc={eB} rc={eR} sw={1} />

      <BarPanel c={aCfg} />
      <BarPanel c={bCfg} />
      <BarPanel c={d40Cfg} />
      <BarPanel c={d86Cfg} />
      <BarPanel c={f40Cfg} />
      <BarPanel c={f86Cfg} />
      <BarPanel c={g1Cfg} />
      <BarPanel c={g2Cfg} />
      <BarPanel c={g3Cfg} />

      <Overlay />
    </div>
  );
}
